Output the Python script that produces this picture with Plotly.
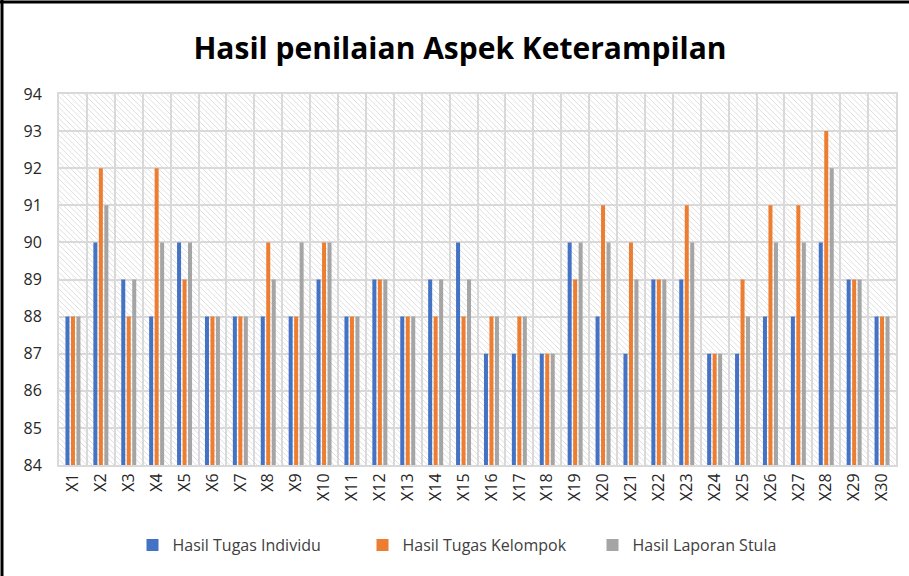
import plotly.graph_objects as go

categories = [f"X{i}" for i in range(1, 31)]
individu = [88, 90, 89, 88, 90, 88, 88, 88, 88, 89, 88, 89, 88, 89, 90,
            87, 87, 87, 90, 88, 87, 89, 89, 87, 87, 88, 88, 90, 89, 88]
kelompok = [88, 92, 88, 92, 89, 88, 88, 90, 88, 90, 88, 89, 88, 88, 88,
            88, 88, 87, 89, 91, 90, 89, 91, 87, 89, 91, 91, 93, 89, 88]
laporan = [88, 91, 89, 90, 90, 88, 88, 89, 90, 90, 88, 89, 88, 89, 89,
           88, 88, 87, 90, 90, 89, 89, 90, 87, 88, 90, 90, 92, 89, 88]
series_names = ["Hasil Tugas Individu", "Hasil Tugas Kelompok", "Hasil Laporan Stula"]
colors = ["#4472C4", "#ED7D31", "#A5A5A5"]
y_ticks = list(range(84, 95))

W, H = 909, 576
ML, MR, MT, MB = 59, 13, 94, 111
PW, PH = W - ML - MR, H - MT - MB
FONT = "Open Sans"

fig = go.Figure()
for name, vals, col in zip(series_names, [individu, kelompok, laporan], colors):
    fig.add_trace(go.Bar(x=categories, y=vals, name=name, marker_color=col,
                         marker_line_width=0, base=0))

# diagonal hatch background (decoration) as one path, paper coords
sp = 5.5
segs = []
s = -PH
while s < PW:
    x0, y0 = s, 0.0
    x1, y1 = s + PH, float(PH)
    if x0 < 0:
        y0 = -x0
        x0 = 0.0
    if x1 > PW:
        y1 = PH - (x1 - PW)
        x1 = float(PW)
    if y1 > y0:
        segs.append(f"M{x0/PW:.5f},{1 - y0/PH:.5f}L{x1/PW:.5f},{1 - y1/PH:.5f}")
    s += sp
fig.add_shape(type="path", path="".join(segs), xref="paper", yref="paper",
              line=dict(color="#e0e0e0", width=1), layer="below")

# chart frame (top and left dark border)
fig.add_shape(type="line", xref="paper", yref="paper",
              x0=-ML / PW, x1=(PW + MR) / PW, y0=(PH + MT - 2) / PH, y1=(PH + MT - 2) / PH,
              line=dict(color="#000000", width=3), layer="above")
fig.add_shape(type="line", xref="paper", yref="paper",
              x0=-(ML - 2) / PW, x1=-(ML - 2) / PW, y0=-MB / PH, y1=(PH + MT) / PH,
              line=dict(color="#000000", width=3), layer="above")

fig.update_layout(
    width=W, height=H,
    margin=dict(l=ML, r=MR, t=MT, b=MB, autoexpand=False),
    paper_bgcolor="white", plot_bgcolor="rgba(0,0,0,0)",
    barmode="group", bargap=0.41, bargroupgap=0.27,
    title=dict(text="<b>Hasil penilaian Aspek Keterampilan</b>", x=(460 - ML) / PW,
               xanchor="center", y=1 - 48 / H, yanchor="middle", xref="paper",
               font=dict(family=FONT, size=30, color="#000000")),
    font=dict(family=FONT, color="#404040"),
    legend=dict(orientation="h", x=0.5, xanchor="center", y=-(545 - MT - PH) / PH,
                yanchor="middle", font=dict(size=16, color="#404040"),
                entrywidth=185, entrywidthmode="pixels", itemwidth=30),
    xaxis=dict(type="category", tickson="boundaries", showgrid=True,
               gridcolor="#d9d9d9", gridwidth=2, tickangle=-90, ticks="",
               tickfont=dict(size=16, color="#262626", family=FONT),
               showline=True, linecolor="#d9d9d9", linewidth=2, mirror=True,
               range=[-0.5, 29.5]),
    yaxis=dict(range=[84, 94], tickvals=y_ticks, showgrid=True, gridcolor="#d9d9d9",
               gridwidth=2, zeroline=False, ticks="", ticklabelstandoff=12,
               tickfont=dict(size=16, color="#262626", family=FONT),
               showline=True, linecolor="#d9d9d9", linewidth=2, mirror=True),
)

fig.write_html("out.html", config={"displayModeBar": False},
               post_script="document.body.style.margin='0';")
